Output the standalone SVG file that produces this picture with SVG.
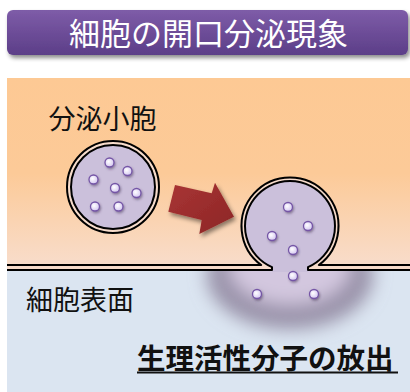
<svg xmlns="http://www.w3.org/2000/svg" width="410" height="392" viewBox="0 0 410 392">
  <style>
    .jp { font-family: "Noto Sans CJK JP", "Noto Sans CJK SC", sans-serif; }
    .label { fill: #111111; font-size: 27px; }
    .line { fill: none; stroke: #000000; stroke-width: 2; stroke-linejoin: round; }
    .dot { fill: url(#dotGrad); stroke: #7455a6; stroke-width: 1.3; filter: url(#dotShadow); }
    .lumen { fill: #cbc0db; }
    .gap { fill: #f7dccb; }
  </style>
  <defs>
    <linearGradient id="titleGrad" x1="0" y1="0" x2="0" y2="1">
      <stop offset="0" stop-color="#7e5ca8"/>
      <stop offset="1" stop-color="#5c3e88"/>
    </linearGradient>
    <linearGradient id="cytoGrad" x1="0" y1="78" x2="0" y2="268" gradientUnits="userSpaceOnUse">
      <stop offset="0" stop-color="#fdc994"/>
      <stop offset="0.5" stop-color="#fcca98"/>
      <stop offset="1" stop-color="#f8ddcc"/>
    </linearGradient>
    <linearGradient id="arrowGrad" x1="0" y1="0" x2="1" y2="1">
      <stop offset="0" stop-color="#a93434"/>
      <stop offset="1" stop-color="#8c2626"/>
    </linearGradient>
    <radialGradient id="dotGrad" cx="0.4" cy="0.4" r="0.65">
      <stop offset="0" stop-color="#ffffff"/>
      <stop offset="1" stop-color="#d2c4f0"/>
    </radialGradient>
    <filter id="shadow" x="-20%" y="-20%" width="150%" height="170%">
      <feDropShadow dx="2" dy="3" stdDeviation="2" flood-color="#000000" flood-opacity="0.45"/>
    </filter>
    <filter id="dotShadow" x="-50%" y="-50%" width="220%" height="220%">
      <feDropShadow dx="1" dy="1.5" stdDeviation="0.8" flood-color="#3a2a50" flood-opacity="0.5"/>
    </filter>
    <filter id="haze" x="-50%" y="-50%" width="200%" height="200%">
      <feGaussianBlur stdDeviation="9"/>
    </filter>
    <clipPath id="outside">
      <rect x="7" y="268" width="403" height="124"/>
    </clipPath>
  </defs>

  <!-- title banner -->
  <g id="title">
    <rect x="7" y="10" width="401" height="45" rx="6" fill="url(#titleGrad)" filter="url(#shadow)"/>
    <text class="jp" x="208.5" y="44.5" font-size="31" fill="#ffffff" text-anchor="middle">細胞の開口分泌現象</text>
  </g>

  <!-- cytoplasm above, extracellular space below -->
  <g id="background">
    <rect x="7" y="78" width="403" height="190" fill="url(#cytoGrad)"/>
    <rect x="7" y="267.5" width="403" height="124.5" fill="#dbe5f1"/>
  </g>

  <!-- released contents spreading out -->
  <g id="release-cloud" clip-path="url(#outside)">
    <ellipse cx="290" cy="275" rx="83" ry="54" fill="#9891a8" filter="url(#haze)"/>
    <ellipse cx="290" cy="266" rx="62" ry="40" fill="#d3c7df" filter="url(#haze)"/>
  </g>

  <!-- plasma membrane with the fused vesicle -->
  <g id="fused-vesicle">
    <path class="gap" d="M7 265 H261.2 A48.5 48.5 0 1 1 318.8 265 H410 V270 H308 V267.2 A45 45 0 1 0 272 267.2 V270 H7 Z"/>
    <path class="lumen" d="M272 267.2 A45 45 0 1 1 308 267.2 V272 H272 Z"/>
    <path class="line" d="M7 265 H261.2 A48.5 48.5 0 1 1 318.8 265 H410"/>
    <path class="line" d="M7 270 H272 V267.2 A45 45 0 1 1 308 267.2 V270 H410"/>
    <circle class="dot" cx="288" cy="207" r="4.5"/>
    <circle class="dot" cx="308" cy="226" r="4.5"/>
    <circle class="dot" cx="272" cy="236" r="4.5"/>
    <circle class="dot" cx="293" cy="250" r="4.5"/>
    <circle class="dot" cx="293" cy="276" r="4.5"/>
    <circle class="dot" cx="257" cy="294" r="4.5"/>
    <circle class="dot" cx="314" cy="294" r="4.5"/>
  </g>

  <!-- free secretory vesicle -->
  <g id="vesicle">
    <circle cx="113" cy="187" r="46" class="gap" stroke="#000000" stroke-width="2"/>
    <circle cx="113" cy="187" r="42" class="lumen" stroke="#000000" stroke-width="2"/>
    <circle class="dot" cx="109.5" cy="162.5" r="4.5"/>
    <circle class="dot" cx="127.5" cy="171" r="4.5"/>
    <circle class="dot" cx="93.5" cy="179.5" r="4.5"/>
    <circle class="dot" cx="115" cy="188" r="4.5"/>
    <circle class="dot" cx="136.5" cy="193" r="4.5"/>
    <circle class="dot" cx="95" cy="206.5" r="4.5"/>
    <circle class="dot" cx="118.5" cy="206.5" r="4.5"/>
  </g>

  <g id="connectors">
    <polygon points="175,185 211.7,193.3 215,182.7 234,216.7 199.3,234 201.7,220 168.3,211.7" fill="url(#arrowGrad)" filter="url(#shadow)"/>
  </g>

  <g id="labels">
    <text class="jp label" x="48.5" y="129">分泌小胞</text>
    <text class="jp label" x="26" y="310" font-size="28">細胞表面</text>
    <text class="jp" x="137" y="369" font-size="28.5" font-weight="bold" fill="#111111">生理活性分子の放出</text>
    <line x1="137" y1="372.5" x2="398" y2="372.5" stroke="#111111" stroke-width="2"/>
  </g>
</svg>
